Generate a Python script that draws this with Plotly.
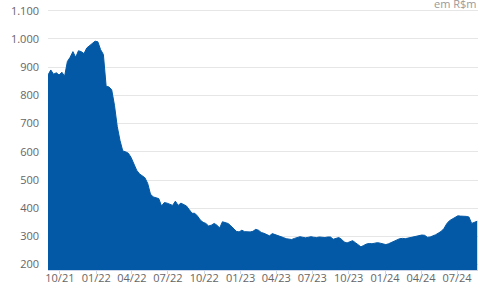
import pandas as pd
import plotly.graph_objects as go

start_date = "2021-09-01"
values = [
    872, 890, 875, 880, 872, 882, 868, 920, 935, 955,
    935, 958, 955, 948, 968, 975, 982, 992, 990, 962,
    945, 832, 830, 820, 765, 690, 640, 603, 600, 595,
    580, 555, 535, 522, 516, 508, 488, 450, 440, 438,
    434, 408, 420, 418, 415, 410, 425, 410, 418, 412,
    408, 395, 382, 382, 372, 358, 350, 346, 337, 340,
    346, 340, 330, 352, 350, 346, 338, 327, 318, 316,
    322, 317, 316, 316, 318, 325, 322, 314, 311, 305,
    302, 310, 307, 304, 300, 296, 292, 290, 289, 293,
    296, 299, 297, 295, 297, 299, 297, 296, 298, 297,
    296, 298, 298, 290, 292, 296, 290, 280, 277, 281,
    285, 278, 270, 263, 268, 273, 275, 274, 276, 278,
    276, 274, 271, 274, 278, 282, 287, 292, 293, 292,
    294, 296, 299, 302, 303, 305, 304, 297, 298, 301,
    306, 312, 318, 328, 345, 356, 362, 370, 373, 372,
    372, 371, 369, 346, 350, 354,
]
dates = pd.date_range(start_date, periods=len(values), freq="7D")

y_ticks = [200, 300, 400, 500, 600, 700, 800, 900, 1000, 1100]
unit_label = "em R$m"

fill_color = "#0459a6"
font_family = "Open Sans"
label_color = "#666666"

fig = go.Figure()
fig.add_trace(go.Scatter(
    x=dates, y=values, mode="lines", fill="tozeroy",
    line=dict(color=fill_color, width=1, shape="linear"),
    fillcolor=fill_color, hoverinfo="skip",
))

fig.update_layout(
    width=478, height=283,
    margin=dict(l=48, r=0, t=0, b=13),
    paper_bgcolor="white", plot_bgcolor="white",
    separators=",.",
    showlegend=False,
    font=dict(family=font_family, size=11, color=label_color),
    annotations=[dict(
        text=unit_label, xref="paper", yref="paper", x=1, y=1,
        xanchor="right", yanchor="top", yshift=6, showarrow=False,
        font=dict(family=font_family, size=11, color="#999999"),
    )],
)
fig.update_xaxes(
    type="date", automargin=False,
    range=[dates[0], pd.Timestamp("2024-08-23")],
    tick0="2021-10-01", dtick="M3", tickformat="%m/%y",
    showgrid=False, ticks="outside", ticklen=3, tickcolor="#ccd6eb",
    ticklabelstandoff=-5,
    showline=True, linecolor="#ccd6eb", linewidth=1,
    tickfont=dict(family=font_family, size=11, color=label_color),
)
fig.update_yaxes(
    range=[181, 1138], tickvals=y_ticks, tickformat=",d", automargin=False,
    showgrid=True, gridcolor="#e6e6e6", gridwidth=1,
    zeroline=False, showline=False, ticks="", ticklabelstandoff=8,
    tickfont=dict(family=font_family, size=11, color=label_color),
)

fig.write_html("out.html", config={"displayModeBar": False},
               post_script="document.body.style.margin='0';")
